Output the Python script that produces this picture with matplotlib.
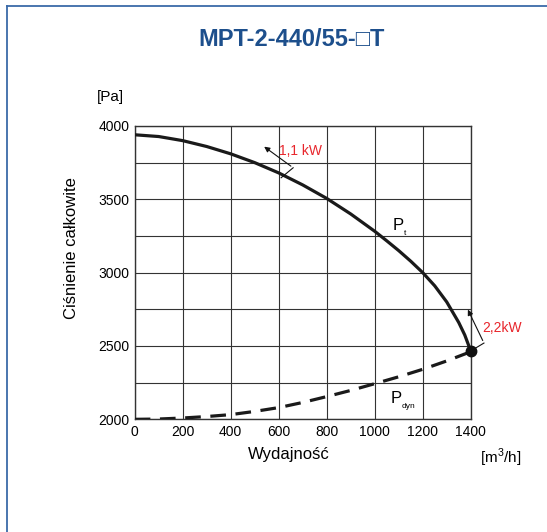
import matplotlib
matplotlib.use('Agg')
import matplotlib.pyplot as plt
from matplotlib.lines import Line2D

plt.rcParams['font.family'] = ['Liberation Sans', 'DejaVu Sans']
plt.rcParams['mathtext.fontset'] = 'custom'
plt.rcParams['mathtext.rm'] = 'Liberation Sans'

# Data
flow_pt = [0, 100, 200, 300, 400, 500, 600, 700, 800, 900, 1000, 1050, 1100, 1150,
           1200, 1250, 1300, 1350, 1375, 1400]
p_total = [3940, 3928, 3900, 3860, 3810, 3750, 3680, 3598, 3506, 3400, 3282, 3217, 3150, 3078,
           3000, 2910, 2800, 2660, 2575, 2466]

flow_dyn = [0, 100, 200, 300, 400, 500, 600, 700, 800, 900, 1000, 1100, 1200, 1300, 1400]
p_dyn = [2000, 2002, 2009, 2019, 2032, 2054, 2080, 2115, 2155, 2197, 2243, 2290, 2341, 2398, 2461]

x_ticks = [0, 200, 400, 600, 800, 1000, 1200, 1400]
y_ticks = [2000, 2500, 3000, 3500, 4000]
y_grid = [2250, 2750, 3250, 3750]

title = 'MPT-2-440/55-\u25a1T'
grid_col = '#333333'
red = '#e8262c'
blue = '#1d4f8c'

fig = plt.figure(figsize=(5.47, 5.32), dpi=100)
ax = fig.add_axes([0.2463, 0.2118, 0.6143, 0.5514])

ax.set_xlim(0, 1400)
ax.set_ylim(2000, 4000)
ax.set_xticks(x_ticks)
ax.set_yticks(y_ticks)
ax.set_yticks(y_grid, minor=True)
ax.tick_params(which='both', length=0, labelsize=10, pad=4)
ax.grid(which='both', color=grid_col, linewidth=0.8)
for s in ax.spines.values():
    s.set_color(grid_col)
    s.set_linewidth(1.0)
ax.set_axisbelow(True)

ax.plot(flow_pt, p_total, color='#1a1a1a', linewidth=2.3, solid_joinstyle='round', zorder=3)
ax.plot(flow_dyn, p_dyn, color='#1a1a1a', linewidth=2.3, dashes=(4.9, 3.0), zorder=3)
ax.plot([flow_pt[-1]], [p_total[-1]], 'o', color='#111111', markersize=7.5, zorder=4, clip_on=False)

# 1,1 kW leader
ax.plot([610, 660], [3647, 3715], color='#111111', linewidth=0.8, zorder=4, clip_on=False)
ax.annotate('', xy=(530, 3870), xytext=(660, 3715),
            arrowprops=dict(arrowstyle='-|>', color='#111111', lw=0.8, mutation_scale=8))
ax.text(600, 3830, '1,1 kW', color=red, fontsize=10, ha='left', va='center')

# 2,2kW leader
ax.plot([1400, 1455], [2466, 2520], color='#111111', linewidth=0.8, zorder=4, clip_on=False)
ax.annotate('', xy=(1383, 2765), xytext=(1455, 2520),
            arrowprops=dict(arrowstyle='-|>', color='#111111', lw=0.8, mutation_scale=8),
            annotation_clip=False)
ax.text(1448, 2621, '2,2kW', color=red, fontsize=10, ha='left', va='center', clip_on=False)

# curve labels
ax.text(1075, 3320, 'P', fontsize=12, ha='left', va='center')
ax.text(1122, 3268, 't', fontsize=6, ha='left', va='center')
ax.text(1065, 2145, 'P', fontsize=12, ha='left', va='center')
ax.text(1112, 2090, 'dyn', fontsize=6, ha='left', va='center')

# axis texts
fig.text(292 / 547, 1 - 40 / 532, title, color=blue, fontsize=17, fontweight='bold',
         ha='center', va='center')
fig.text(97 / 547, 1 - 97 / 532, '[Pa]', fontsize=11, ha='left', va='center')
fig.text(72 / 547, 1 - 248 / 532, 'Ciśnienie całkowite', fontsize=12, rotation=90,
         ha='center', va='center')
fig.text(289 / 547, 1 - 455 / 532, 'Wydajność', fontsize=12, ha='center', va='center')
fig.text(480 / 547, 1 - 458 / 532, '[m$^{3}$/h]', fontsize=11, ha='left', va='center')

# frame lines at top and left
fig.add_artist(Line2D([6.5 / 547, 1], [1 - 6 / 532, 1 - 6 / 532], color='#3a6aa8', linewidth=1.3))
fig.add_artist(Line2D([6.5 / 547, 6.5 / 547], [0, 1 - 6 / 532], color='#3a6aa8', linewidth=1.3))

fig.savefig('out.png', dpi=100)
